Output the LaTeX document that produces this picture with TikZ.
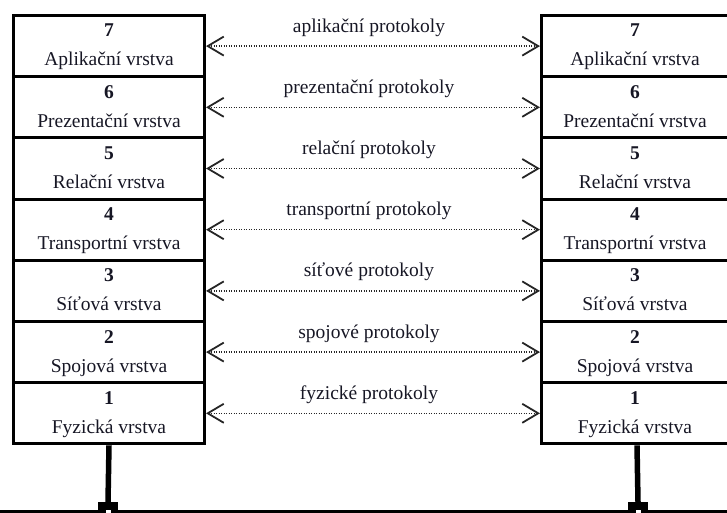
\documentclass[tikz,border=0pt]{standalone}
\usepackage{fontspec}
\setmainfont{Liberation Serif}
\usetikzlibrary{arrows.meta,calc}
\definecolor{ink}{RGB}{22,22,36}
\begin{document}
\begin{tikzpicture}[x=1pt,y=-1pt,
  layer/.style={draw=black, line width=3pt, minimum width=191pt, minimum height=61.2pt, inner sep=0pt, outer sep=1.5pt},
  numtxt/.style={anchor=base, inner sep=0pt, text=ink, font=\fontsize{19.5}{22}\selectfont\bfseries},
  nametxt/.style={anchor=base, inner sep=0pt, text=ink, font=\fontsize{19.5}{22}\selectfont},
  prototxt/.style={anchor=base, inner sep=0pt, text=ink, font=\fontsize{19.5}{22}\selectfont},
  tipbarb/.tip={Straight Barb[length=16pt,width=19pt,line width=1.8pt]},
  proto/.style={draw=black!85, line width=1.3pt, dash pattern=on 1.3pt off 1.2pt, tipbarb-tipbarb},
  stem/.style={draw=black, line width=5.5pt},
  foot/.style={fill=black, draw=none, minimum width=20pt, minimum height=8pt, inner sep=0pt, outer sep=0pt},
  baseline line/.style={draw=black, line width=3.5pt}]
\useasboundingbox (0,0) rectangle (727,513);
\clip (0,0) rectangle (727,513);
\foreach \k/\n/\p [count=\i from 0] in {
  7/Aplikační vrstva/aplikační protokoly,
  6/Prezentační vrstva/prezentační protokoly,
  5/Relační vrstva/relační protokoly,
  4/Transportní vrstva/transportní protokoly,
  3/Síťová vrstva/síťové protokoly,
  2/Spojová vrstva/spojové protokoly,
  1/Fyzická vrstva/fyzické protokoly}{
  \pgfmathsetmacro\yc{46.1+61.2*\i}
  \node[layer] (L\k) at (109,\yc) {};
  \node[layer] (R\k) at (637,\yc) {};
  \node[numtxt] (Ln\k) at ($(L\k.center)+(0,-9.1)$) {\k};
  \node[nametxt] (Lt\k) at ($(L\k.center)+(0,19.9)$) {\n};
  \node[numtxt] (Rn\k) at ($(R\k.center)+(-2,-9.1)$) {\k};
  \node[nametxt] (Rt\k) at ($(R\k.center)+(-2,19.9)$) {\n};
  \draw[proto] (L\k.east) -- (R\k.west);
  \node[prototxt] (P\k) at ($(L\k.east)!0.5!(R\k.west)+(-4,-14)$) {\p};
}
\node[foot] (FL) at (108,506) {};
\node[foot] (FR) at (638,506) {};
\draw[stem] (L1.south) -- (FL.north);
\draw[stem] (R1.south) -- (FR.north);
\coordinate (BL) at (0,511.5);
\coordinate (BR) at (727,511.5);
\draw[baseline line] (BL) -- (BR);
\fill[white] (106,509.5) rectangle (111,513);
\fill[white] (636,509.5) rectangle (641,513);
\end{tikzpicture}
\end{document}
